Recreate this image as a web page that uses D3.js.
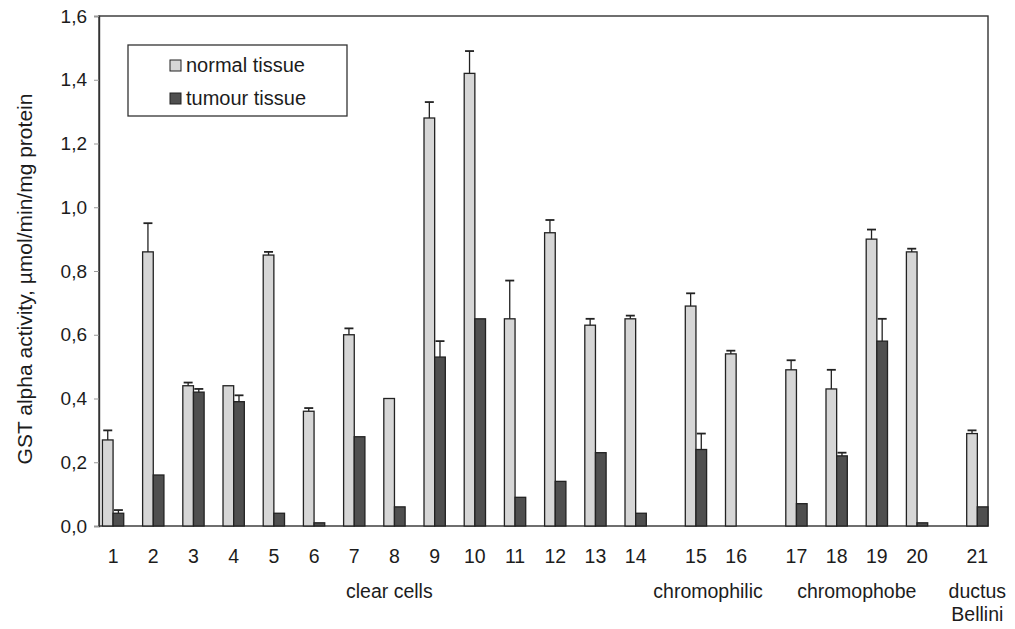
<!DOCTYPE html>
<html>
<head>
<meta charset="utf-8">
<script src="https://cdn.jsdelivr.net/npm/d3@7"></script>
<style>
  body { margin: 0; background: #fff; }
  text { font-family: "Liberation Sans", Arial, sans-serif; fill: #1c1c1c; }
</style>
</head>
<body>
<div id="chart"></div>
<script>
// data
const categories = ["1","2","3","4","5","6","7","8","9","10","11","12","13","14","15","16","17","18","19","20","21"];
const groups = ["clear cells","clear cells","clear cells","clear cells","clear cells","clear cells","clear cells",
  "clear cells","clear cells","clear cells","clear cells","clear cells","clear cells","clear cells",
  "chromophilic","chromophilic","chromophobe","chromophobe","chromophobe","chromophobe","ductus Bellini"];
const normal    = [0.27,0.86,0.44,0.44,0.85,0.36,0.60,0.40,1.28,1.42,0.65,0.92,0.63,0.65,0.69,0.54,0.49,0.43,0.90,0.86,0.29];
const normalErr = [0.03,0.09,0.01,0,   0.01,0.01,0.02,0,   0.05,0.07,0.12,0.04,0.02,0.01,0.04,0.01,0.03,0.06,0.03,0.01,0.01];
const tumour    = [0.04,0.16,0.42,0.39,0.04,0.01,0.28,0.06,0.53,0.65,0.09,0.14,0.23,0.04,0.24,0,   0.07,0.22,0.58,0.01,0.06];
const tumourErr = [0.01,0,   0.01,0.02,0,   0,   0,   0,   0.05,0,   0,   0,   0,   0,   0.05,0,   0,   0.01,0.07,0,   0];
const yTicks = [0,0.2,0.4,0.6,0.8,1.0,1.2,1.4,1.6];
const seriesNames = ["normal tissue","tumour tissue"];
const colors = ["#d6d6d6","#4f4f4f"];

function main() {
    const width = 1015, height = 629;
    const margin = {top: 16, right: 27, bottom: 103, left: 99};
    const innerW = width - margin.left - margin.right;
    const innerH = height - margin.top - margin.bottom;

    const svg = d3.select("#chart").append("svg")
        .attr("width", width)
        .attr("height", height);
    const g = svg.append("g").attr("transform", `translate(${margin.left},${margin.top})`);

    // slot index: one per category, half a slot extra between groups
    const slot = [];
    let s = 0;
    categories.forEach((c, i) => {
        if (i > 0 && groups[i] !== groups[i - 1]) s += 0.5;
        slot.push(s);
        s += 1;
    });
    const barFrac = 0.265;
    const x = d3.scaleLinear().domain([-0.35, s - 1 + barFrac]).range([0, innerW]);
    const step = x(1) - x(0);
    const barW = step * barFrac;

    const y = d3.scaleLinear().domain([0, 1.6]).range([innerH, 0]);

    // frame
    g.append("rect").attr("width", innerW).attr("height", innerH)
        .attr("fill", "none").attr("stroke", "#333").attr("stroke-width", 1.4);

    // y axis
    const yAxis = g.append("g").call(d3.axisLeft(y).tickValues(yTicks).tickSize(5).tickPadding(7)
        .tickFormat(d => d3.format(".1f")(d).replace(".", ",")));
    yAxis.select(".domain").attr("stroke", "#333").attr("stroke-width", 1.4);
    yAxis.selectAll(".tick line").attr("stroke", "#999");
    yAxis.selectAll("text").style("font-size", "19px").attr("fill", "#1c1c1c");

    // x category labels
    g.selectAll("text.cat").data(categories).enter().append("text")
        .attr("class", "cat")
        .attr("x", (d, i) => x(slot[i]))
        .attr("y", innerH + 37)
        .attr("text-anchor", "middle")
        .style("font-size", "19.5px")
        .text(d => d);

    // group labels
    const groupNames = Array.from(new Set(groups));
    groupNames.forEach(name => {
        const idx = groups.map((gname, i) => gname === name ? i : -1).filter(i => i >= 0);
        const cx = d3.mean(idx, i => x(slot[i]));
        const lines = name === "ductus Bellini" ? ["ductus", "Bellini"] : [name];
        const lx = name === "clear cells" ? cx + 15 : cx - (name === "chromophilic" ? 8 : 0);
        const t = g.append("text")
            .attr("x", lx)
            .attr("y", innerH + 72)
            .attr("text-anchor", "middle")
            .style("font-size", "19.5px");
        lines.forEach((l, k) => t.append("tspan").attr("x", lx).attr("dy", k ? 23 : 0).text(l));
    });

    // bars
    const series = [normal, tumour];
    const errs = [normalErr, tumourErr];
    series.forEach((vals, si) => {
        const offset = si === 0 ? -barW : 0;
        const pts = vals.map((v, i) => ({v: v, e: errs[si][i], i: i})).filter(p => p.v > 0);
        g.selectAll("rect.s" + si).data(pts).enter().append("rect")
            .attr("class", "s" + si)
            .attr("x", p => x(slot[p.i]) + offset)
            .attr("y", p => y(p.v))
            .attr("width", barW)
            .attr("height", p => innerH - y(p.v))
            .attr("fill", colors[si])
            .attr("stroke", "#222")
            .attr("stroke-width", 1.3);

        // error bars (upper only)
        const eb = g.selectAll("g.e" + si).data(pts.filter(p => p.e > 0)).enter().append("g")
            .attr("class", "e" + si);
        eb.append("line")
            .attr("x1", p => x(slot[p.i]) + offset + barW / 2)
            .attr("x2", p => x(slot[p.i]) + offset + barW / 2)
            .attr("y1", p => y(p.v)).attr("y2", p => y(p.v + p.e))
            .attr("stroke", "#222").attr("stroke-width", 1.3);
        eb.append("line")
            .attr("x1", p => x(slot[p.i]) + offset + barW / 2 - 4.5)
            .attr("x2", p => x(slot[p.i]) + offset + barW / 2 + 4.5)
            .attr("y1", p => y(p.v + p.e)).attr("y2", p => y(p.v + p.e))
            .attr("stroke", "#222").attr("stroke-width", 1.8);
    });

    // y axis title
    svg.append("text")
        .attr("transform", `translate(32,${margin.top + innerH / 2 + 8}) rotate(-90)`)
        .attr("text-anchor", "middle")
        .style("font-size", "21px")
        .text("GST alpha activity, µmol/min/mg protein");

    // legend
    const lg = svg.append("g").attr("transform", "translate(128,45)");
    lg.append("rect").attr("width", 219).attr("height", 71)
        .attr("fill", "#fff").attr("stroke", "#333").attr("stroke-width", 1.3);
    seriesNames.forEach((name, i) => {
        const row = lg.append("g").attr("transform", `translate(42,${27 + i * 33})`);
        row.append("rect").attr("x", 0).attr("y", -12).attr("width", 11).attr("height", 11)
            .attr("fill", colors[i]).attr("stroke", "#222");
        row.append("text").attr("x", 16).attr("y", 0).style("font-size", "20px").text(name);
    });
}
main();
</script>
</body>
</html>
